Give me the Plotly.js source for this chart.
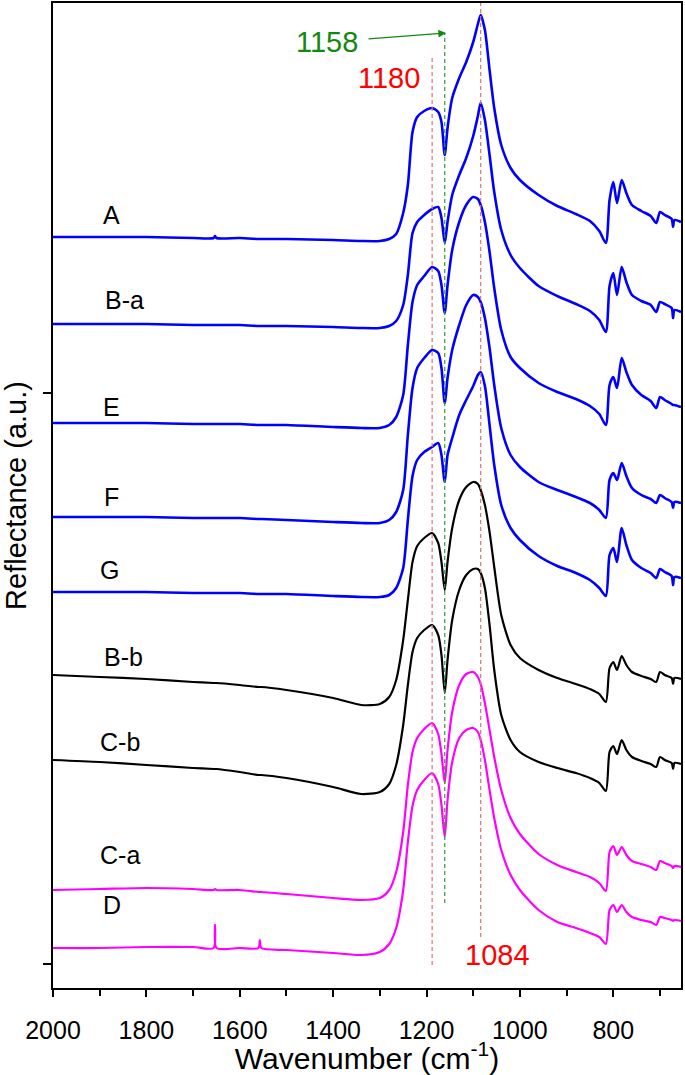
<!DOCTYPE html>
<html>
<head>
<meta charset="utf-8">
<script src="https://cdn.plot.ly/plotly-3.0.1.min.js"></script>
<style>
  html, body { margin: 0; padding: 0; background: #ffffff; }
  #chart { width: 685px; height: 1075px; }
</style>
</head>
<body>
<div id="chart"></div>
<script>
// Wavenumber nodes (cm-1)
const wavenumber = [2000,1900,1800,1700,1656,1653,1650,1600,1560,1557,1554,1500,1400,1340,1300,1280,1265,1250,1240,1230,
  1220,1205,1188,1175,1168,1161,1155,1145,1130,1115,1100,1090,1084,1075,1065,1055,1040,1020,1000,960,
  920,880,850,830,816,808,800,792,782,772,760,740,720,708,700,690,675,672,669,655];

// Offset reflectance (a.u.) for each sample
const specA  = [763,763,763,762,762,764,762,762,761,761,761,761,760,759,759,761,766,787,815,868,883,889,892,888,878,845,872,902,922,938,958,976,985,970,930,892,855,832,820,805,794,786,779,769,757,800,818,797,820,807,795,789,784,777,788,785,781,773,780,778];
const specBa = [676,676,676,675,675,675,675,675,674,674,674,674,673,672,672,674,679,695,725,767,778,785,791,793,782,757,778,805,825,842,864,884,897,880,845,808,770,745,732,714,704,696,689,680,668,714,727,705,733,718,705,699,695,688,698,696,692,682,690,688];
const specE  = [577,577,577,576,576,576,576,576,575,575,575,575,573,572,572,575,583,605,655,698,715,724,733,729,715,687,715,750,778,795,803,801,795,778,748,712,670,643,632,617,608,601,594,586,575,615,623,612,642,628,615,605,599,592,603,600,596,595,595,593];
const specF  = [483,483,483,482,482,482,482,482,481,481,481,480,478,477,477,480,488,510,565,612,632,642,650,647,632,597,622,650,675,695,705,703,698,682,652,615,572,545,533,518,510,503,497,490,482,520,527,520,537,524,512,505,501,497,505,502,498,492,498,497];
const specG  = [408,408,408,407,407,407,407,407,406,406,406,406,404,403,403,405,412,432,480,524,540,548,553,557,545,518,545,562,585,600,614,625,628,614,575,535,495,472,460,444,434,427,420,412,404,445,452,438,472,455,440,432,427,422,431,428,424,415,423,422];
const specBb = [325,323,321,318,317,317,317,315,313,313,313,310,302,295,296,303,320,360,400,438,454,462,467,457,438,410,438,472,500,513,518,516,510,495,468,433,385,355,342,330,322,316,311,306,298,332,338,330,344,335,328,324,321,318,328,325,322,316,322,321];
const specCb = [240,238,235,232,231,231,231,228,225,225,225,222,213,206,208,216,235,275,315,348,362,370,375,365,345,307,340,380,410,425,431,431,427,412,375,330,285,260,248,238,232,227,222,217,209,248,254,246,260,250,243,239,236,233,243,240,237,231,237,236];
const specCa = [110,111,112,111,110,111,110,110,108,108,108,106,102,100,102,110,128,168,215,248,262,271,277,266,246,217,250,288,315,326,328,323,316,297,270,243,210,182,166,146,135,128,123,117,109,148,154,145,153,145,139,136,133,130,139,137,134,132,134,133];
const specD  = [52,52,53,53,52,75,52,52,52,60,52,50,47,45,48,56,72,110,158,194,210,220,227,216,195,163,200,238,262,270,272,268,260,240,210,182,150,125,110,90,78,72,67,63,56,90,95,88,95,88,83,80,78,75,83,82,80,79,80,79];

const sampleNames = ["A","B-a","E","F","G","B-b","C-b","C-a","D"];
const sampleSpectra = [specA, specBa, specE, specF, specG, specBb, specCb, specCa, specD];
const sampleColors = ["#0000ff","#0000ff","#0000ff","#0000ff","#0000ff","#000000","#000000","#ff00ff","#ff00ff"];
// label anchor (wavenumber, a.u.) for each sample name
const labelX = [1874,1846,1874,1874,1880,1848,1857,1857,1874];
const labelY = [785,700,593,503,430,343,258,145,95];

// Marked band positions (dashed guide lines) and their extents
const bandLineX    = [1188, 1161, 1084];
const bandLineYlo  = [35, 97, 63];
const bandLineYhi  = [945, 967, 997];
const bandLineCol  = ["#e07070", "#3a9a3a", "#e07070"];

// y-axis tick positions (unlabelled)
const yTickVals = [36, 607];

const traces = sampleSpectra.map((ys, i) => ({
  x: wavenumber, y: ys, type: "scatter", mode: "lines", name: sampleNames[i],
  line: { color: sampleColors[i], width: i < 5 ? 2.6 : 2.2, shape: "spline", smoothing: 0.7 },
  hoverinfo: "skip"
}));

const shapes = bandLineX.map((x, i) => ({
  type: "line", xref: "x", yref: "y", x0: x, x1: x, y0: bandLineYlo[i], y1: bandLineYhi[i],
  line: { color: bandLineCol[i], width: 1.2, dash: "4px,3px" }
}));

const font = "Liberation Sans, Arial, Helvetica, sans-serif";
const annotations = sampleNames.map((n, i) => ({
  x: labelX[i], y: labelY[i], xref: "x", yref: "y", text: n, showarrow: false,
  font: { family: font, size: 25, color: "#000" }
}));
// "1158" label with its arrow pointing at the green guide line
annotations.push({ x: 1158, y: 967, ax: 1413, ay: 958, xref: "x", yref: "y", axref: "x", ayref: "y",
  text: "1158", showarrow: true, arrowhead: 2, arrowsize: 1.3, arrowwidth: 1.2, arrowcolor: "#128a12",
  startstandoff: 9, font: { family: font, size: 29, color: "#128a12" } });
annotations.push({ x: 1280, y: 922, xref: "x", yref: "y", text: "1180", showarrow: false,
  font: { family: font, size: 29, color: "#ff0000" } });
annotations.push({ x: 1049, y: 45, xref: "x", yref: "y", text: "1084", showarrow: false,
  font: { family: font, size: 29, color: "#ff0000" } });

const layout = {
  width: 685, height: 1075,
  margin: { l: 53, r: 4, t: 3, b: 87 },
  paper_bgcolor: "#ffffff", plot_bgcolor: "#ffffff",
  showlegend: false,
  xaxis: {
    range: [2000, 655], showgrid: false, zeroline: false,
    showline: true, linecolor: "#000", linewidth: 2, mirror: true,
    ticks: "outside", ticklen: 7, tickwidth: 2, tickcolor: "#000",
    tickmode: "linear", tick0: 800, dtick: 200, ticklabelstandoff: 12,
    minor: { dtick: 100, ticks: "outside", ticklen: 6, tickwidth: 2, tickcolor: "#000" },
    tickfont: { family: font, size: 25, color: "#000" },
    title: { text: "Wavenumber (cm<sup>-1</sup>)", font: { family: font, size: 30, color: "#000" }, standoff: 0 }
  },
  yaxis: {
    range: [12, 997], showgrid: false, zeroline: false,
    showline: true, linecolor: "#000", linewidth: 2, mirror: true,
    ticks: "outside", ticklen: 8, tickwidth: 2, tickcolor: "#000",
    tickmode: "array", tickvals: yTickVals, showticklabels: false,
    title: { text: "Reflectance (a.u.)", font: { family: font, size: 29, color: "#000" }, standoff: 8 }
  },
  shapes: shapes,
  annotations: annotations
};

Plotly.newPlot("chart", traces, layout, { staticPlot: true, displayModeBar: false });
</script>
</body>
</html>
